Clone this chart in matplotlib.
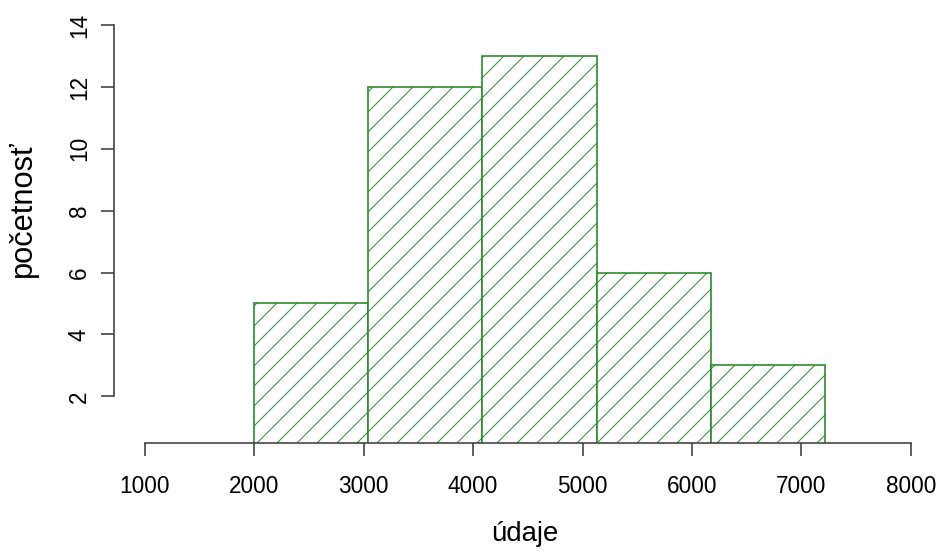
import matplotlib
matplotlib.use("Agg")
import matplotlib.pyplot as plt
import numpy as np

plt.rcParams['font.family'] = ['Liberation Sans', 'DejaVu Sans']
plt.rcParams['hatch.linewidth'] = 0.6

# histogram bins and counts
edges = [2000, 3043, 4085, 5128, 6170, 7213]
counts = [5, 12, 13, 6, 3]
xticks = [1000, 2000, 3000, 4000, 5000, 6000, 7000, 8000]
yticks = [2, 4, 6, 8, 10, 12, 14]

green = '#2E8B2E'
dpi = 120
fig = plt.figure(figsize=(938 / dpi, 551 / dpi), dpi=dpi)
ax = fig.add_axes([114 / 938, (551 - 443.3) / 551, 827.6 / 938, 434.3 / 551])

ax.bar(edges[:-1], counts, width=np.diff(edges), align='edge',
       facecolor='white', edgecolor=green, hatch='//', linewidth=1.0)

ax.set_xlim(720, 8280)
ax.set_ylim(0.48, 14.52)

for s in ['top', 'right']:
    ax.spines[s].set_visible(False)
ax.spines['left'].set_bounds(2, 14)
ax.spines['bottom'].set_bounds(1000, 8000)
for s in ['left', 'bottom']:
    ax.spines[s].set_color('#444444')
    ax.spines[s].set_linewidth(1.0)

ax.set_xticks(xticks)
ax.set_yticks(yticks)
ax.tick_params(axis='both', length=7.8, width=1.0, color='#444444', labelsize=13.5)
ax.tick_params(axis='x', pad=11)
ax.tick_params(axis='y', pad=6)
for lab in ax.get_yticklabels():
    lab.set_rotation(90)
    lab.set_va('center')

ax.set_xlabel('údaje', fontsize=16.5, va='center')
ax.set_ylabel('početnosť', fontsize=18.5, va='center')
# label positions in axes fraction (pixel positions from the reference)
ax.xaxis.set_label_coords((525 - 114) / 827.6, -(534 - 443.3) / 434.3)
ax.yaxis.set_label_coords(-(114 - 23) / 827.6, (443.3 - 209) / 434.3)

fig.savefig('out.png', dpi=dpi)
